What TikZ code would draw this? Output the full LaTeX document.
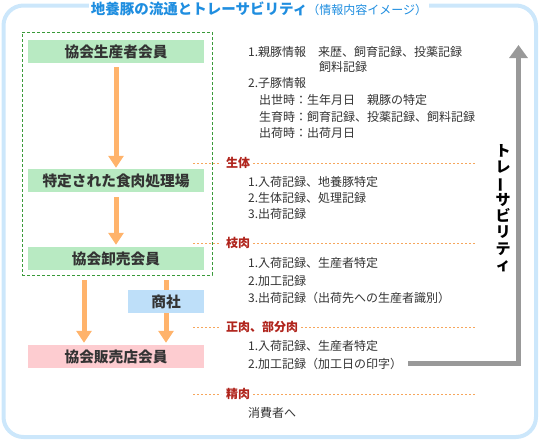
\documentclass[tikz,border=0pt]{standalone}
\usepackage{fontspec}
\usepackage{graphicx}
\newfontfamily\jp{Noto Sans CJK JP}
\usetikzlibrary{arrows.meta}
\definecolor{borderblue}{HTML}{CCE7FB}
\definecolor{titleblue}{HTML}{1F8EE0}
\definecolor{textdark}{HTML}{333333}
\definecolor{labelred}{HTML}{B0241C}
\definecolor{boxgreen}{HTML}{B8EAC2}
\definecolor{boxblue}{HTML}{BEDFF9}
\definecolor{boxpink}{HTML}{FDCCD0}
\definecolor{arroworange}{HTML}{FFB36B}
\definecolor{dashgreen}{HTML}{3A9A3A}
\definecolor{dotorange}{HTML}{F6A65C}
\definecolor{traygray}{HTML}{999999}
\tikzset{
  box/.style={minimum width=176pt, minimum height=23pt, inner sep=0pt,
    font=\jp\bfseries\fontsize{14.7}{16}\selectfont, text=textdark,
    text height=12.2pt, text depth=1pt},
  info/.style={anchor=west, inner sep=0pt, font=\jp\fontsize{12}{14}\selectfont,
    text=textdark, text height=10pt, text depth=0.8pt},
  stagelabel/.style={anchor=west, inner sep=0pt, font=\jp\bfseries\fontsize{12}{14}\selectfont,
    text=labelred, text height=10pt, text depth=0.8pt},
  oarrow/.style={draw=arroworange, line width=5pt, -{Triangle[width=15pt,length=12pt]}},
  oline/.style={draw=arroworange, line width=5pt},
  dotline/.style={draw=dotorange, line width=1pt, dash pattern=on 2pt off 2pt},
  trayarrow/.style={draw=traygray, line width=4.5pt, line join=miter,
    -{Triangle[width=18pt,length=13pt]}}
}
\begin{document}
\begin{tikzpicture}[x=1pt,y=-1pt]
\useasboundingbox (0,0) rectangle (539,440);
% outer frame
\draw[line width=4pt, color=borderblue, rounded corners=20pt] (3.5,5.5) rectangle (536,437);
\node[fill=white, inner xsep=2pt, inner ysep=1pt, text=titleblue, text height=12pt, text depth=1pt] (title) at (259,9)
  {\jp\bfseries\fontsize{14.5}{16}\selectfont 地養豚の流通とトレーサビリティ\mdseries\fontsize{12}{14}\selectfont（情報内容イメージ）};
% dashed group
\node[draw=dashgreen, line width=1pt, dash pattern=on 3pt off 2pt, minimum width=190pt, minimum height=243pt, inner sep=0pt] (grp) at (117,153.5) {};
% boxes
\node[box, fill=boxgreen] (prod) at (116,51.5) {協会生産者会員};
\node[box, fill=boxgreen] (proc) at (116,180.5) {特定された食肉処理場};
\node[box, fill=boxgreen] (whole) at (116,258.5) {協会卸売会員};
\node[box, fill=boxblue, minimum width=76pt] (shosha) at (166,301.5) {商社};
\node[box, fill=boxpink] (sales) at (116,356.5) {協会販売店会員};
% orange arrows
\draw[oarrow, shorten <=4pt, shorten >=1pt] (prod.south) -- (proc.north);
\draw[oarrow, shorten <=5pt, shorten >=2pt] (proc.south) -- (whole.north);
\coordinate (la) at (84,280);
\draw[oarrow, shorten >=2pt] (la) -- (la |- sales.north);
\coordinate (ra) at (166,280);
\draw[oline] (ra) -- (shosha.north);
\draw[oarrow, shorten >=2pt] (shosha.south) -- (shosha.south |- sales.north);
% info texts
\node[info] (i1) at (248,52) {1.親豚情報　来歴、飼育記録、投薬記録};
\node[info] (i2) at (319,67) {飼料記録};
\node[info] (i3) at (248,83) {2.子豚情報};
\node[info] (i4) at (259,100) {出世時：生年月日　親豚の特定};
\node[info] (i5) at (259,117) {生育時：飼育記録、投薬記録、飼料記録};
\node[info] (i6) at (259,133) {出荷時：出荷月日};
% stage 1
\node[stagelabel] (L1) at (226,163) {生体};
\coordinate (s1) at (193,163); \coordinate (e1) at (476,163);
\draw[dotline] (s1) -- ([xshift=-5pt]L1.west);
\draw[dotline] ([xshift=3pt]L1.east) -- (e1);
\node[info] (a1) at (248,182) {1.入荷記録、地養豚特定};
\node[info] (a2) at (248,198) {2.生体記録、処理記録};
\node[info] (a3) at (248,214) {3.出荷記録};
% stage 2
\node[stagelabel] (L2) at (226,243) {枝肉};
\coordinate (s2) at (193,243); \coordinate (e2) at (476,243);
\draw[dotline] (s2) -- ([xshift=-5pt]L2.west);
\draw[dotline] ([xshift=3pt]L2.east) -- (e2);
\node[info] (b1) at (248,263) {1.入荷記録、生産者特定};
\node[info] (b2) at (248,281) {2.加工記録};
\node[info] (b3) at (248,298) {3.出荷記録（出荷先への生産者識別）};
% stage 3
\node[stagelabel] (L3) at (226,327) {正肉、部分肉};
\coordinate (s3) at (193,327); \coordinate (e3) at (476,327);
\draw[dotline] (s3) -- ([xshift=-5pt]L3.west);
\draw[dotline] ([xshift=3pt]L3.east) -- (e3);
\node[info] (c1) at (248,346) {1.入荷記録、生産者特定};
\node[info] (c2) at (248,364) {2.加工記録（加工日の印字）};
% stage 4
\node[stagelabel] (L4) at (226,394) {精肉};
\coordinate (s4) at (193,394); \coordinate (e4) at (476,394);
\draw[dotline] (s4) -- ([xshift=-5pt]L4.west);
\draw[dotline] ([xshift=3pt]L4.east) -- (e4);
\node[info] (d1) at (248,413) {消費者へ};
% traceability arrow
\coordinate (g1) at ([xshift=6pt]c2.east);
\coordinate (g2) at (518.5,363.5);
\coordinate (g3) at (518.5,45);
\draw[trayarrow] (g1 |- g2) -- (g2) -- (g3);
\node[align=center, inner sep=0pt, font=\jp\bfseries\fontsize{15}{16.3}\selectfont, text=black] (trace) at (503,208)
  {ト\\レ\\\rotatebox[origin=c]{90}{ー}\\サ\\ビ\\リ\\テ\\ィ};
\end{tikzpicture}
\end{document}
